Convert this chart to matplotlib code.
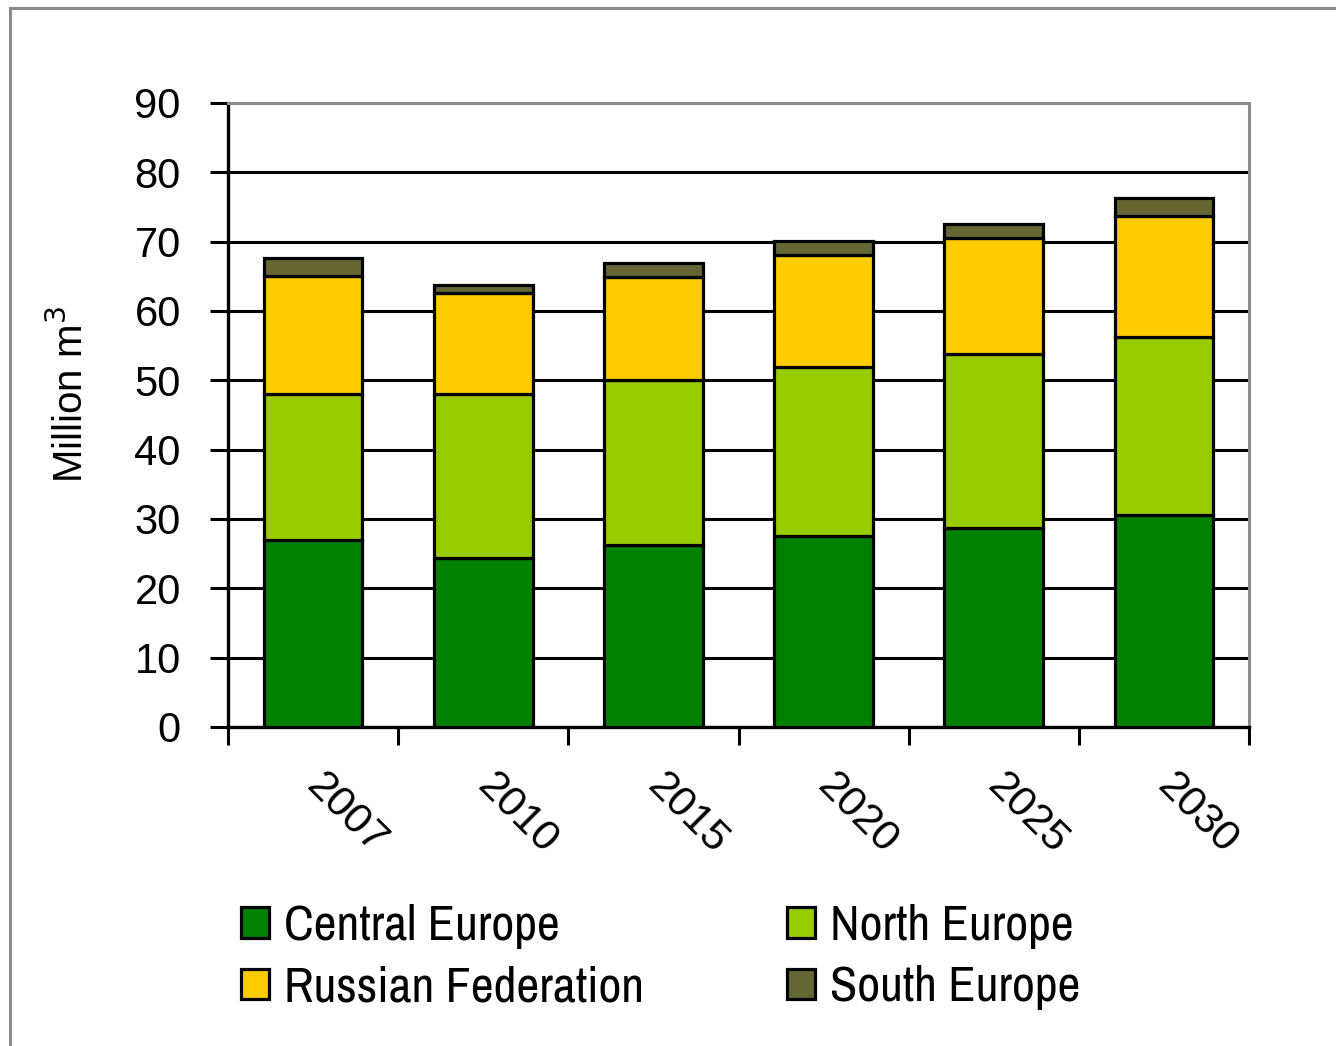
import numpy as np
import matplotlib
matplotlib.use("Agg")
import matplotlib.pyplot as plt
from matplotlib.patches import Rectangle

years = ['2007', '2010', '2015', '2020', '2025', '2030']
central = [26.9, 24.4, 26.3, 27.5, 28.7, 30.6]
north = [21.2, 23.7, 23.7, 24.4, 25.1, 25.7]
russian = [16.9, 14.5, 14.9, 16.2, 16.8, 17.4]
south = [2.6, 1.2, 2.0, 2.0, 1.9, 2.6]

series_names = ['Central Europe', 'North Europe', 'Russian Federation', 'South Europe']
colors = ['#008000', '#99CC00', '#FFCC00', '#666633']

plt.rcParams['font.family'] = ['Liberation Sans', 'DejaVu Sans']

fig = plt.figure(figsize=(13.36, 10.46), dpi=100)
W, H = 1336, 1046

# outer chart border (only top and left edges visible)
fig.patches.append(Rectangle((10 / W, -0.1), 1.5, 1.1 - 8 / H, transform=fig.transFigure,
                             fill=False, edgecolor='#8c8c8c', linewidth=2.2, zorder=0))

ax = fig.add_axes([228 / W, 1 - 727 / H, (1249 - 228) / W, (727 - 103) / H])

x = np.arange(len(years))
bottom = np.zeros(len(years))
handles = []
for vals, name, c in zip([central, north, russian, south], series_names, colors):
    b = ax.bar(x, vals, width=0.58, bottom=bottom, color=c, edgecolor='black',
               linewidth=2.3, label=name, zorder=3)
    handles.append(b)
    bottom += np.array(vals)

ax.set_ylim(0, 90)
ax.set_xlim(-0.5, len(years) - 0.5)
ax.set_yticks(np.arange(0, 91, 10))
ax.set_yticklabels([str(v) for v in range(0, 91, 10)], fontsize=30)
for v in range(10, 90, 10):
    ax.axhline(v, color='black', linewidth=2.2, zorder=1)

ax.spines['left'].set_linewidth(2.4)
ax.spines['bottom'].set_linewidth(2.4)
ax.spines['top'].set_color('#8c8c8c')
ax.spines['right'].set_color('#8c8c8c')
ax.spines['top'].set_linewidth(2.2)
ax.spines['right'].set_linewidth(2.2)
ax.tick_params(axis='y', length=13, width=2.2, direction='out', pad=21)

ax.set_xticks(x)
ax.set_xticks(np.arange(-0.5, len(years), 1), minor=True)
ax.tick_params(axis='x', which='major', length=0, pad=38)
ax.tick_params(axis='x', which='minor', length=13, width=2.2, direction='out')
ax.set_xticklabels(years, fontsize=31, rotation=-45, ha='left', va='center',
                   rotation_mode='anchor')

ax.set_ylabel('Million m$^3$', fontsize=29)
ax.yaxis.set_label_coords(-0.134, 0.532)

narrow = {'family': ['Archivo Narrow', 'DejaVu Sans'], 'stretch': 'condensed', 'size': 36}
leg_handles = [handles[0], handles[2], handles[1], handles[3]]
leg_labels = [series_names[0], series_names[2], series_names[1], series_names[3]]
leg = fig.legend(leg_handles, leg_labels, loc='upper left', bbox_to_anchor=(196 / W, 1 - 859 / H),
                 ncol=2, frameon=False, handlelength=0.56, handleheight=0.56,
                 handletextpad=0.3, columnspacing=2.85, labelspacing=0.33, prop=narrow)

fig.savefig('out.png', dpi=100)
